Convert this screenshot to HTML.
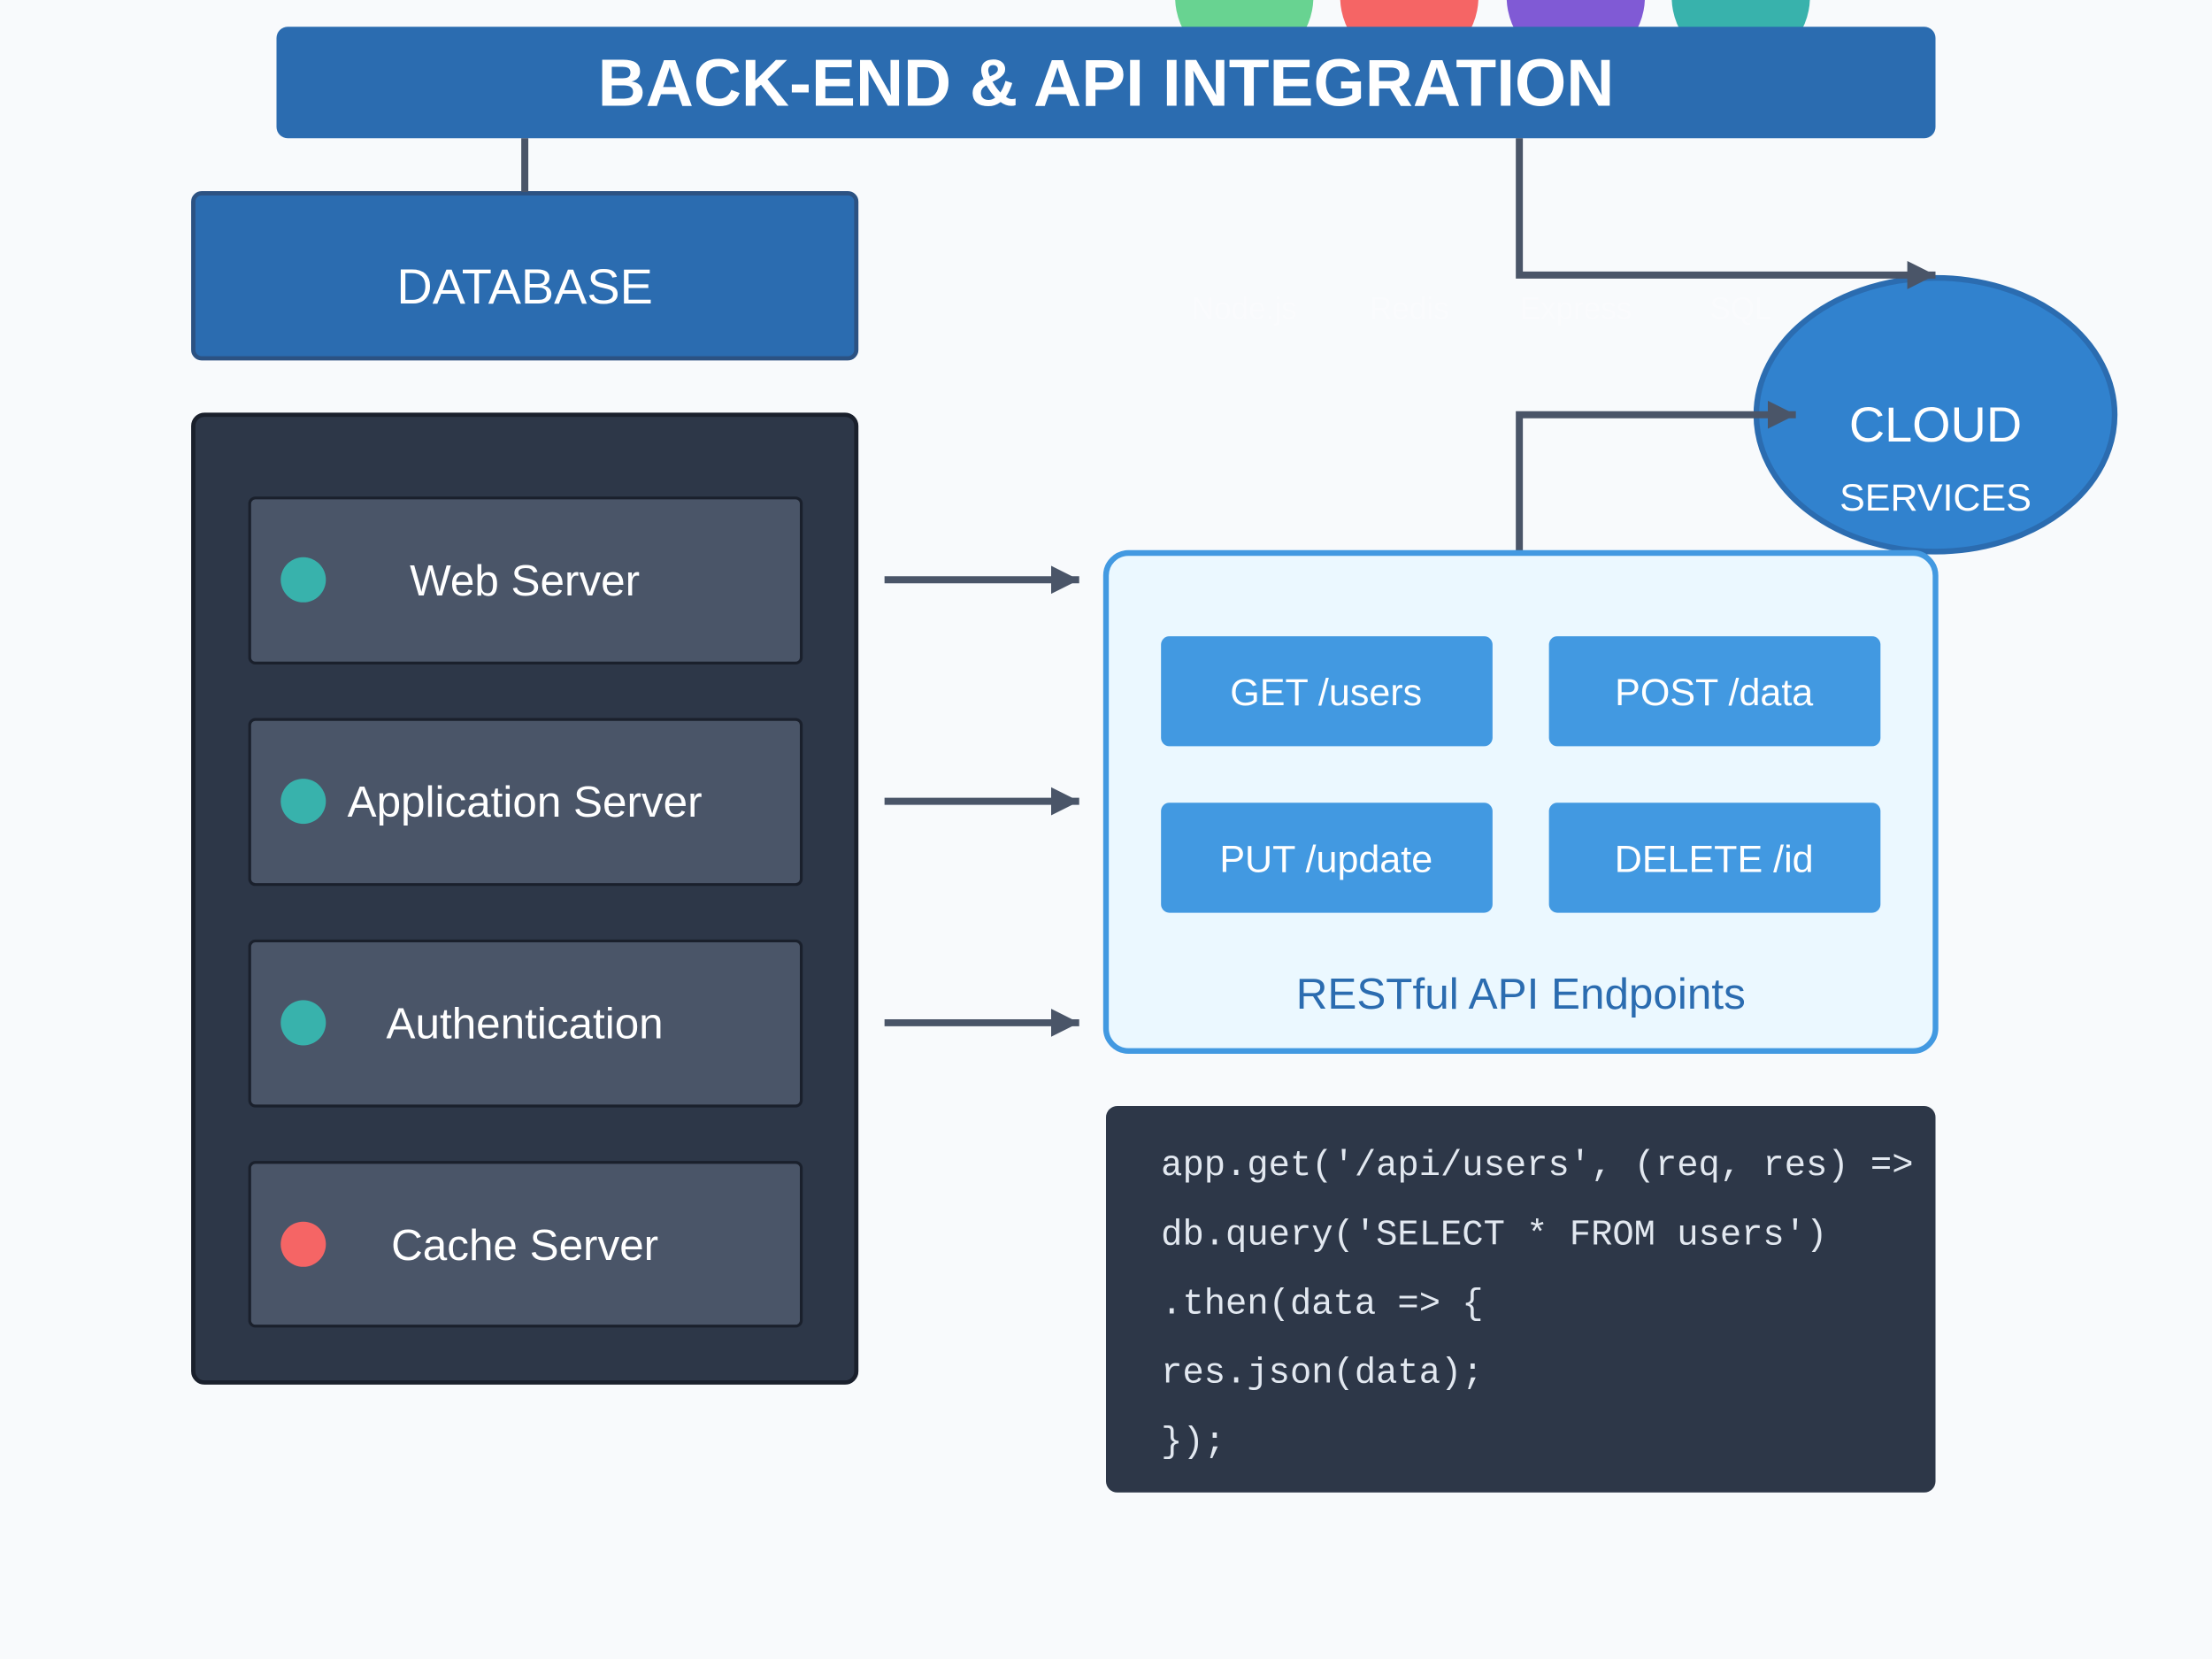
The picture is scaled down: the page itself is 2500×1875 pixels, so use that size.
<!DOCTYPE html>
<html><head><meta charset="utf-8"><style>html,body{margin:0;padding:0;background:#f7fafc}svg{display:block}</style></head><body>
<svg width="2500" height="1875" viewBox="0 0 1568 1176" xmlns="http://www.w3.org/2000/svg" font-family="Liberation Sans, sans-serif">
<defs>
<marker id="m" viewBox="0 0 10 10" markerWidth="20" markerHeight="20" refX="10" refY="5" orient="auto" markerUnits="userSpaceOnUse"><path d="M0,0 L10,5 L0,10 Z" fill="#4a5568"/></marker></defs>
<rect width="1568" height="1176" fill="#f8fafc"/>
<circle cx="882" cy="-2" r="49" fill="#68d391"/>
<circle cx="999" cy="-2" r="49" fill="#f56565"/>
<circle cx="1117" cy="-2" r="49" fill="#805ad5"/>
<circle cx="1234" cy="-2" r="49" fill="#38b2ac"/>
<rect x="196" y="19" width="1176" height="79" rx="8" fill="#2b6cb0"/>
<text x="784" y="75" text-anchor="middle" font-size="47" font-weight="bold" fill="#fff">BACK-END &amp; API INTEGRATION</text>
<rect x="137" y="137" width="470" height="117" rx="6" fill="#2b6cb0" stroke="#2c5282" stroke-width="3"/>
<text x="372" y="215" text-anchor="middle" font-size="35" fill="#fff">DATABASE</text>
<g fill="rgba(255,255,255,0.25)" font-size="22" text-anchor="middle"><text x="882" y="226">Node.js</text><text x="999" y="226">Redis</text><text x="1117" y="226">Express</text><text x="1234" y="226">SQL</text></g>
<ellipse cx="1372" cy="294" rx="127" ry="97" fill="#3182ce" stroke="#2b6cb0" stroke-width="4"/>
<text x="1372" y="313" text-anchor="middle" font-size="35" fill="#fff">CLOUD</text>
<text x="1372" y="362" text-anchor="middle" font-size="27" fill="#fff">SERVICES</text>
<g stroke="#4a5568" stroke-width="5" fill="none">
<path d="M372 98 V136"/>
<path d="M1077 98 V195 H1372" marker-end="url(#m)"/>
<path d="M1077 392 V294 H1273" marker-end="url(#m)"/>
<path d="M627 411 H765" marker-end="url(#m)"/>
<path d="M627 568 H765" marker-end="url(#m)"/>
<path d="M627 725 H765" marker-end="url(#m)"/>
</g>
<rect x="137" y="294" width="470" height="686" rx="8" fill="#2d3748" stroke="#1a202c" stroke-width="3"/>
<g fill="#4a5568" stroke="#1a202c" stroke-width="2">
<rect x="177" y="353" width="391" height="117" rx="4"/>
<rect x="177" y="510" width="391" height="117" rx="4"/>
<rect x="177" y="667" width="391" height="117" rx="4"/>
<rect x="177" y="824" width="391" height="116" rx="4"/>
</g>
<circle cx="215" cy="411" r="16" fill="#38b2ac"/><circle cx="215" cy="568" r="16" fill="#38b2ac"/><circle cx="215" cy="725" r="16" fill="#38b2ac"/><circle cx="215" cy="882" r="16" fill="#f56565"/>
<g fill="#fff" font-size="31" text-anchor="middle">
<text x="372" y="422">Web Server</text><text x="372" y="579">Application Server</text><text x="372" y="736">Authentication</text><text x="372" y="893">Cache Server</text></g>
<rect x="784" y="392" width="588" height="353" rx="16" fill="#ebf8ff" stroke="#4299e1" stroke-width="4"/>
<g fill="#4299e1"><rect x="823" y="451" width="235" height="78" rx="6"/><rect x="1098" y="451" width="235" height="78" rx="6"/><rect x="823" y="569" width="235" height="78" rx="6"/><rect x="1098" y="569" width="235" height="78" rx="6"/></g>
<g fill="#fff" font-size="27" text-anchor="middle"><text x="940" y="500">GET /users</text><text x="1215" y="500">POST /data</text><text x="940" y="618">PUT /update</text><text x="1215" y="618">DELETE /id</text></g>
<text x="1078" y="715" text-anchor="middle" font-size="31" fill="#2b6cb0">RESTful API Endpoints</text>
<svg x="784" y="784" width="588" height="274"><rect width="588" height="274" rx="8" fill="#2d3748"/>
<g fill="#e2e8f0" font-family="Liberation Mono, monospace" font-size="25.4"><text x="39" y="49">app.get('/api/users', (req, res) =&gt;</text><text x="39" y="98">db.query('SELECT * FROM users')</text><text x="39" y="147">.then(data =&gt; {</text><text x="39" y="196">res.json(data);</text><text x="39" y="245">});</text></g></svg>
</svg>
</body></html>
